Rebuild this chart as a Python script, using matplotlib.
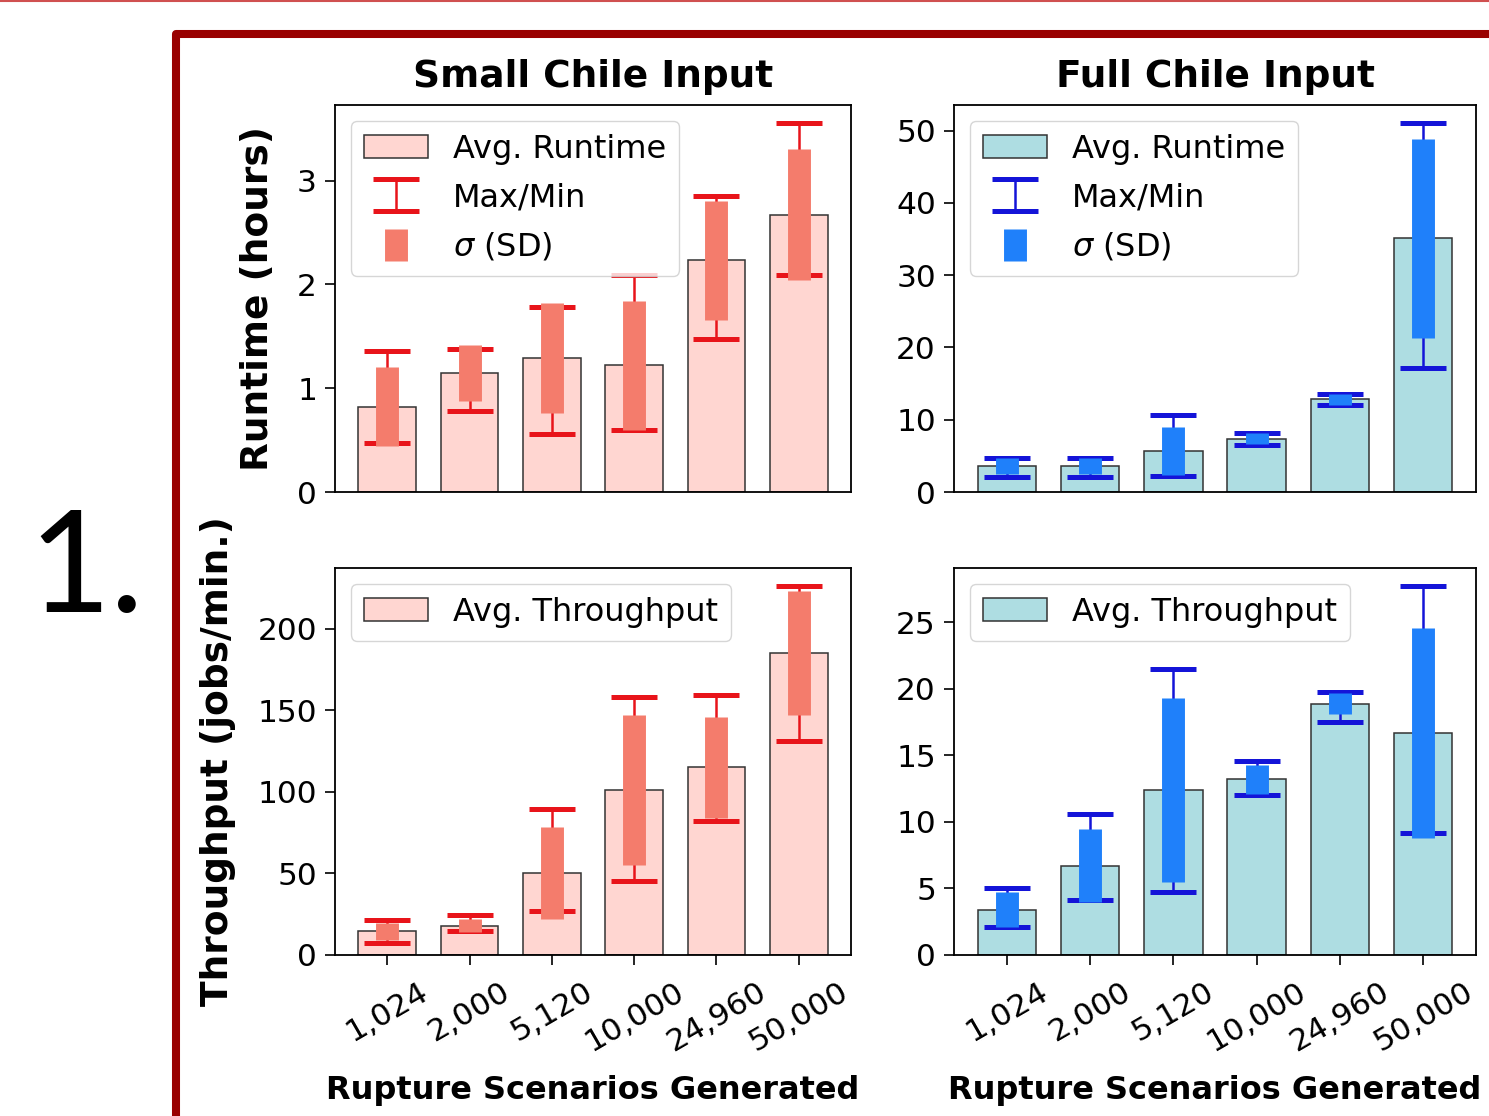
import matplotlib.pyplot as plt
import numpy as np
from matplotlib.patches import Rectangle
from matplotlib.lines import Line2D

rotulos = ['1,024', '2,000', '5,120', '10,000', '24,960', '50,000']

# runtime (horas)
small_rt_avg = [0.82, 1.15, 1.29, 1.22, 2.23, 2.67]
small_rt_max = [1.36, 1.38, 1.78, 2.09, 2.85, 3.55]
small_rt_min = [0.47, 0.78, 0.56, 0.60, 1.47, 2.09]
small_rt_sd = [0.38, 0.27, 0.53, 0.62, 0.57, 0.63]

full_rt_avg = [3.6, 3.6, 5.7, 7.4, 12.8, 35.1]
full_rt_max = [4.7, 4.7, 10.6, 8.2, 13.5, 51.0]
full_rt_min = [2.1, 2.1, 2.2, 6.5, 12.1, 17.2]
full_rt_sd = [1.1, 1.1, 3.3, 0.8, 0.7, 13.8]

# throughput (jobs/min.)
small_tp_avg = [14.7, 17.8, 50.3, 101, 115, 185]
small_tp_max = [21.5, 24.5, 89.6, 158, 159.5, 226]
small_tp_min = [7.4, 14.7, 27.0, 45.4, 82, 131]
small_tp_sd = [5.2, 4.0, 28, 46, 31, 38]

full_tp_avg = [3.4, 6.7, 12.4, 13.2, 18.9, 16.7]
full_tp_max = [5.0, 10.6, 21.5, 14.6, 19.8, 27.7]
full_tp_min = [2.1, 4.1, 4.7, 12.0, 17.5, 9.2]
full_tp_sd = [1.3, 2.75, 6.9, 1.1, 0.8, 7.9]

FS = 22.5   # ticks
FL = 23     # legenda
FSB = 27    # titulos / ylabel
FX = 23     # xlabel

def painel(ax, avg, mx, mn, sd, cor_bar, cor_cap, cor_sd, rotulo, extra_leg):
    x = np.arange(len(avg))
    avg = np.array(avg); mx = np.array(mx); mn = np.array(mn); sd = np.array(sd)
    b = ax.bar(x, avg, 0.7, color=cor_bar, edgecolor='#333333', linewidth=1.1,
               label=rotulo, zorder=1)
    e1 = ax.errorbar(x, avg, yerr=[avg - mn, mx - avg], fmt='none', ecolor=cor_cap,
                     elinewidth=1.8, capsize=16.5, capthick=3.6, zorder=2)
    e2 = ax.errorbar(x, avg, yerr=sd, fmt='none', ecolor=cor_sd, elinewidth=16.5,
                     capsize=0, zorder=3)
    ax.set_xticks(x)
    ax.tick_params(labelsize=FS, length=7, width=1.2, pad=6)
    for s in ax.spines.values():
        s.set_linewidth(1.3)
    if extra_leg:
        hs = [b, e1, e2]
        ls = [rotulo, 'Max/Min', r'$\sigma$ (SD)']
    else:
        hs = [b]
        ls = [rotulo]
    ax.legend(hs, ls, loc='upper left', fontsize=FL, handlelength=2.0,
              handletextpad=0.8, labelspacing=0.55)

fig = plt.figure(figsize=(14.89, 11.16), dpi=100)

ax1 = fig.add_axes([335/1489, 1-492/1116, 516/1489, 387/1116])
ax2 = fig.add_axes([954/1489, 1-492/1116, 522/1489, 387/1116])
ax3 = fig.add_axes([335/1489, 1-955/1116, 516/1489, 387/1116])
ax4 = fig.add_axes([954/1489, 1-955/1116, 522/1489, 387/1116])

rosa, vermelho, salmao = '#ffd6d1', '#e8141a', '#f47c6c'
azul_cl, azul, azul_sd = '#aedde2', '#1414d8', '#1f80fa'

painel(ax1, small_rt_avg, small_rt_max, small_rt_min, small_rt_sd,
       rosa, vermelho, salmao, 'Avg. Runtime', True)
painel(ax2, full_rt_avg, full_rt_max, full_rt_min, full_rt_sd,
       azul_cl, azul, azul_sd, 'Avg. Runtime', True)
painel(ax3, small_tp_avg, small_tp_max, small_tp_min, small_tp_sd,
       rosa, vermelho, salmao, 'Avg. Throughput', False)
painel(ax4, full_tp_avg, full_tp_max, full_tp_min, full_tp_sd,
       azul_cl, azul, azul_sd, 'Avg. Throughput', False)

for ax in (ax1, ax2):
    ax.tick_params(axis='x', bottom=False, labelbottom=False)
for ax in (ax3, ax4):
    ax.set_xticklabels(rotulos, rotation=30)
    ax.tick_params(axis='x', pad=9)
    ax.set_xlabel('Rupture Scenarios Generated', fontsize=FX, fontweight='bold',
                  labelpad=13)

ax1.set_yticks([0, 1, 2, 3])
ax2.set_yticks([0, 10, 20, 30, 40, 50])
ax3.set_yticks([0, 50, 100, 150, 200])
ax4.set_yticks([0, 5, 10, 15, 20, 25])

ax1.set_title('Small Chile Input', fontsize=FSB, fontweight='bold', pad=13)
ax2.set_title('Full Chile Input', fontsize=FSB, fontweight='bold', pad=13)
ax1.set_ylabel('Runtime (hours)', fontsize=FSB, fontweight='bold', labelpad=15)
ax3.set_ylabel('Throughput (jobs/min.)', fontsize=FSB, fontweight='bold', labelpad=15)

# moldura vermelha do slide
fig.patches.append(Rectangle((176/1489, -0.1), 1.0, 0.1 + 1 - 34/1116,
                             transform=fig.transFigure, fill=False,
                             edgecolor='#990000', linewidth=5.8,
                             joinstyle='round', zorder=0))
fig.lines.append(Line2D([0, 1], [0.9995, 0.9995], transform=fig.transFigure,
                        color='#d05050', linewidth=1.5))
fig.text(28/1489, 1-612/1116, '1.', fontsize=102, family='Lato',
         va='baseline', ha='left')

plt.savefig('out.png', dpi=100)
